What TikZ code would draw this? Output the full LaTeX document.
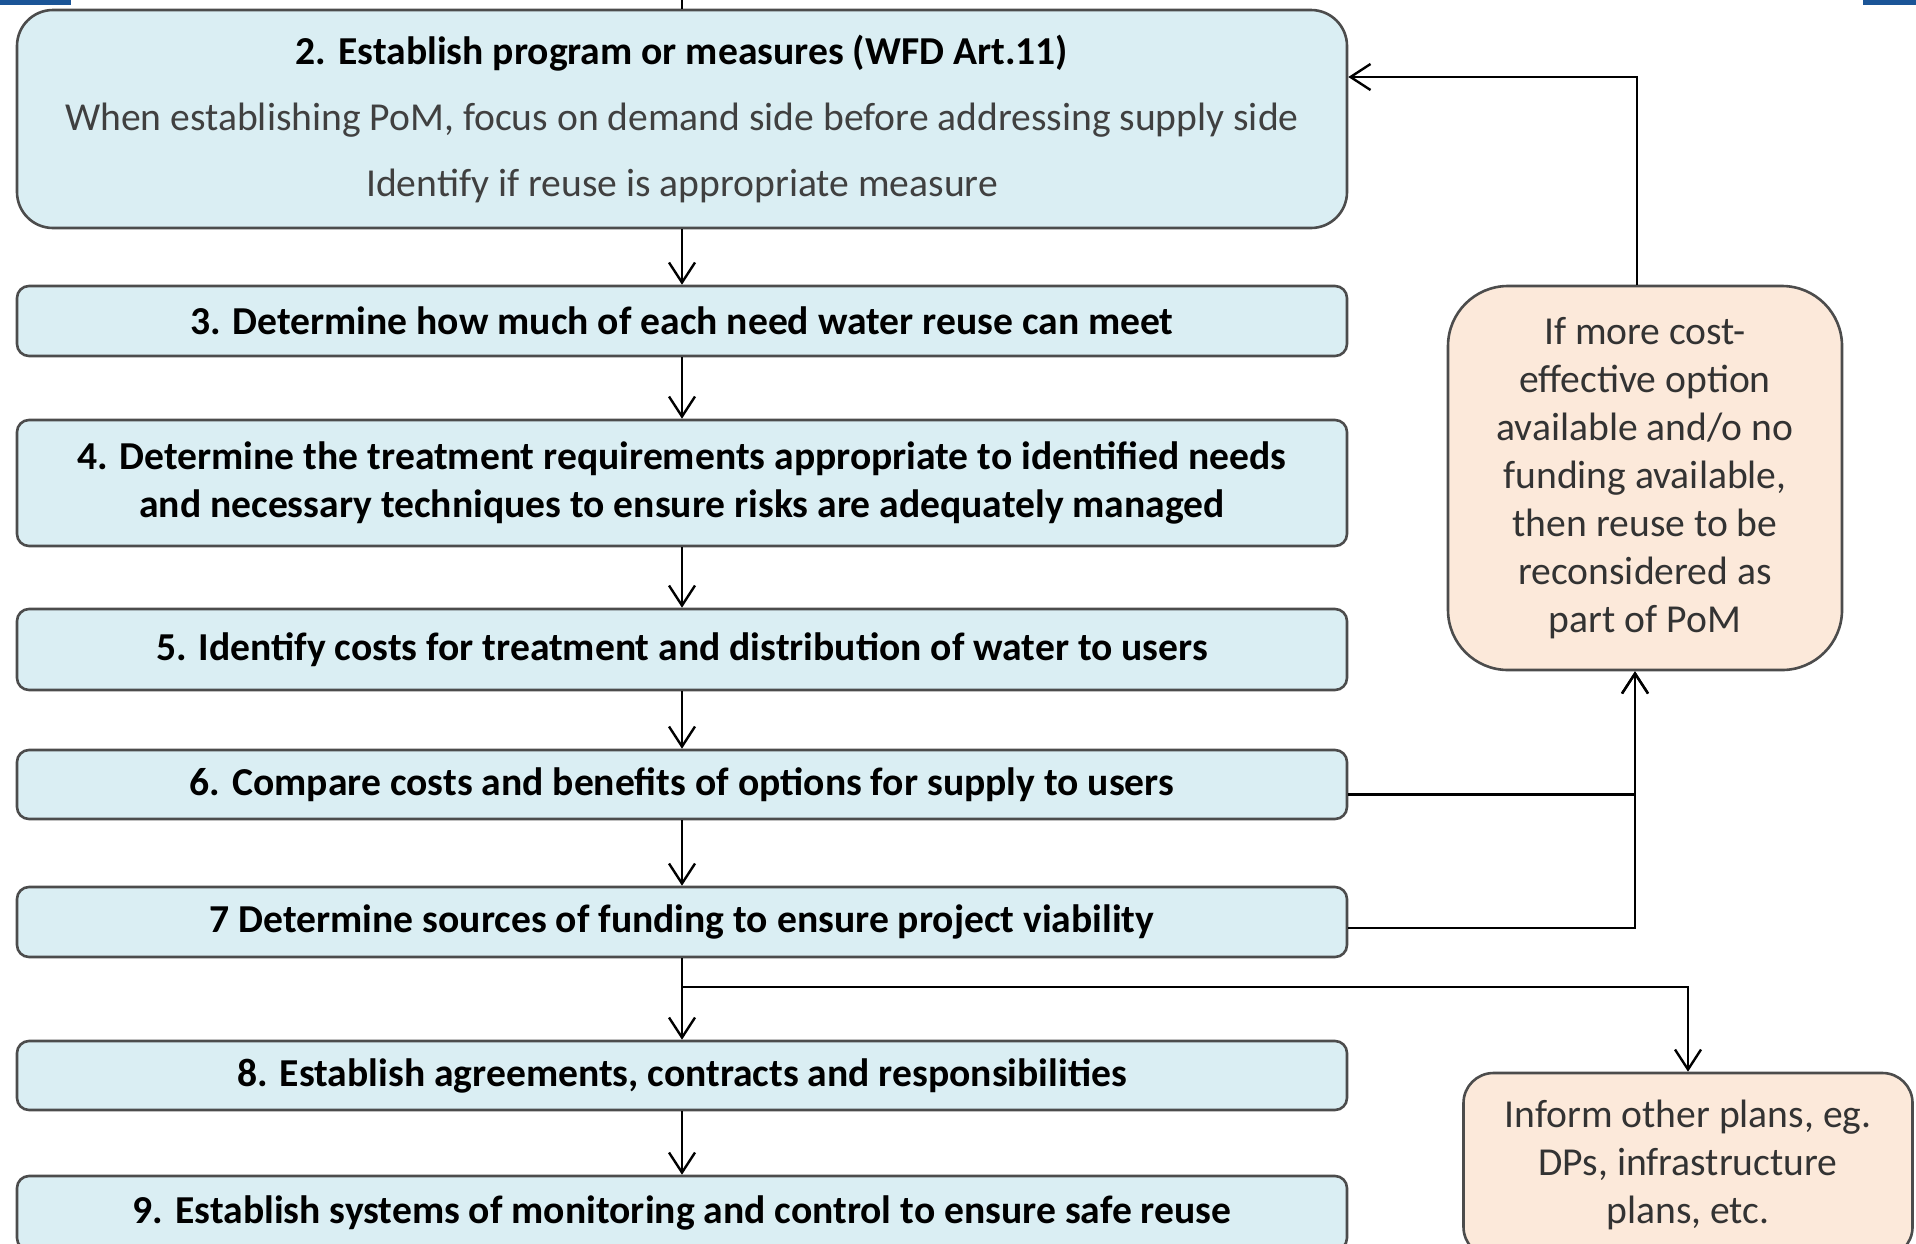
\documentclass[tikz,border=0pt]{standalone}
\usepackage{fontspec}
\setmainfont{Carlito}
\usepackage{xcolor}
\usepackage{tikz}
\usetikzlibrary{arrows.meta}

\definecolor{stepblue}{HTML}{DAEEF3}
\definecolor{noteorange}{HTML}{FCE9DA}
\definecolor{pageblue}{HTML}{1B5597}

\begin{document}
\begin{tikzpicture}[x=0.5pt,y=-0.5pt,
  stepbox/.style={draw=black!70,line width=1.3pt,fill=stepblue,rounded corners=6pt,
    minimum width=665pt,align=center,inner sep=0pt,
    font=\fontsize{19.8}{24}\selectfont\bfseries},
  notebox/.style={draw=black!70,line width=1.3pt,fill=noteorange,align=center,
    inner sep=0pt,text=black!80,font=\fontsize{19.8}{24}\selectfont},
  arr/.style={line width=1.2pt,-{Straight Barb[length=10pt,width=13pt]}}]
\useasboundingbox (0,0) rectangle (1916,1243);
\fill[pageblue] (0,0) rectangle (71,5);
\fill[pageblue] (1863,0) rectangle (1916,5);

\node[stepbox,minimum height=109pt,rounded corners=18pt] (box2) at (682,119)
  {2. Establish program or measures (WFD Art.11)\\[9pt]
   {\mdseries\color{black!75}When establishing PoM, focus on demand side before addressing supply side}\\[9pt]
   {\mdseries\color{black!75}Identify if reuse is appropriate measure}};
\node[stepbox,minimum height=35pt] (box3) at (682,321)
  {3. Determine how much of each need water reuse can meet};
\node[stepbox,minimum height=63pt] (box4) at (682,483)
  {4. Determine the treatment requirements appropriate to identified needs\\
   and necessary techniques to ensure risks are adequately managed};
\node[stepbox,minimum height=40.5pt] (box5) at (682,649.5)
  {5. Identify costs for treatment and distribution of water to users};
\node[stepbox,minimum height=34.5pt] (box6) at (682,784.5)
  {6. Compare costs and benefits of options for supply to users};
\node[stepbox,minimum height=35pt] (box7) at (682,922)
  {7 Determine sources of funding to ensure project viability};
\node[stepbox,minimum height=34.5pt] (box8) at (682,1075.5)
  {8. Establish agreements, contracts and responsibilities};
\node[stepbox,minimum height=37pt] (box9) at (682,1213)
  {9. Establish systems of monitoring and control to ensure safe reuse};

\node[notebox,minimum width=197pt,minimum height=192pt,rounded corners=30pt] (boxA) at (1645,478)
  {If more cost-\\effective option\\available and/o no\\funding available,\\then reuse to be\\reconsidered as\\part of PoM};
\node[notebox,minimum width=224.5pt,minimum height=92pt,rounded corners=15pt] (boxB) at (1688,1165)
  {Inform other plans, eg.\\DPs, infrastructure\\plans, etc.};

\coordinate (prev) at (682,-20);
\draw[line width=1.2pt] (prev) -- (box2.north);
\foreach \a/\b in {box2/box3,box3/box4,box4/box5,box5/box6,box6/box7,box7/box8,box8/box9}
  \draw[arr] (\a.south) -- (\b.north);

\coordinate (split) at (682,987);
\draw[arr] (split) -| (boxB.north);
\draw[arr] ([yshift=-5pt]box6.east) -| ([xshift=-5pt]boxA.south);
\draw[arr] ([yshift=-3pt]box7.east) -| ([xshift=-5pt]boxA.south);
\draw[arr] ([xshift=-4pt]boxA.north) |- ([yshift=21pt]box2.east);
\end{tikzpicture}
\end{document}
